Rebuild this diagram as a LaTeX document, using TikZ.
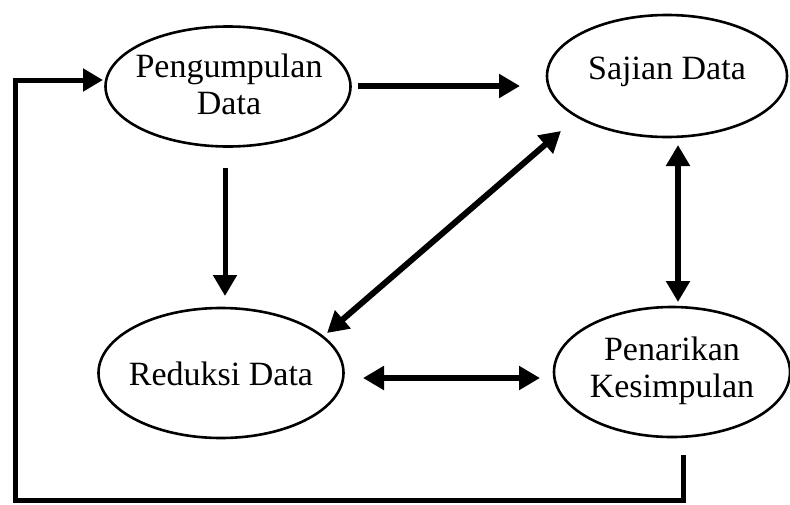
\documentclass[tikz,border=0pt]{standalone}
\usepackage{fontspec}
\setmainfont{Liberation Serif}
\usetikzlibrary{shapes.geometric,arrows.meta,calc}
\tikzset{
  oval/.style={draw=black, line width=2.6pt, ellipse, inner sep=0pt},
  txt/.style={align=center, inner sep=0pt, font=\fontsize{34}{37}\selectfont},
  arr/.style={line width=6pt, -{Triangle[length=21pt,width=23pt]}},
  dbl/.style={line width=6pt, {Triangle[length=21pt,width=23pt]}-{Triangle[length=21pt,width=23pt]}},
  fb/.style={line width=5pt, line join=miter, -{Triangle[length=20pt,width=22pt]}}
}
\begin{document}
\begin{tikzpicture}[x=1pt,y=-1pt]
\useasboundingbox[fill=white] (0,0) rectangle (790,504);
\node[oval, minimum width=245pt, minimum height=120pt] (p) at (228,86.5) {};
\node[oval, minimum width=240pt, minimum height=122pt] (s) at (667,76) {};
\node[oval, minimum width=245pt, minimum height=130pt] (r) at (221,373) {};
\node[oval, minimum width=236pt, minimum height=130pt] (k) at (672,372) {};
\node[txt] (pt) at ($(p.center)+(1,-2)$) {Pengumpulan\\Data};
\node[txt] (st) at ($(s.center)+(0,-4)$) {Sajian Data};
\node[txt] (rt) at ($(r.center)+(0,1)$) {Reduksi Data};
\node[txt] (kt) at ($(k.center)+(0,-1)$) {Penarikan\\Kesimpulan};
\coordinate (c1) at (15,500);
% arrows
\draw[arr] ($(p.center)+(130,-0.5)$) -- ($(s.center)+(-147,10)$);
\draw[arr, line width=5pt] ($(p.center)+(-3,81.5)$) -- ($(r.center)+(4,-77)$);
\draw[dbl] ($(r.center)+(106,-40)$) -- ($(s.center)+(-106,55)$);
\draw[dbl] ($(s.center)+(11,69)$) -- ($(k.center)+(6,-70)$);
\draw[dbl] ($(r.center)+(142,5)$) -- ($(k.center)+(-132,6)$);
\draw[fb] ($(k.center)+(11,83)$) |- (c1) |- ($(p.center)+(-125,-6.5)$);
\end{tikzpicture}
\end{document}
